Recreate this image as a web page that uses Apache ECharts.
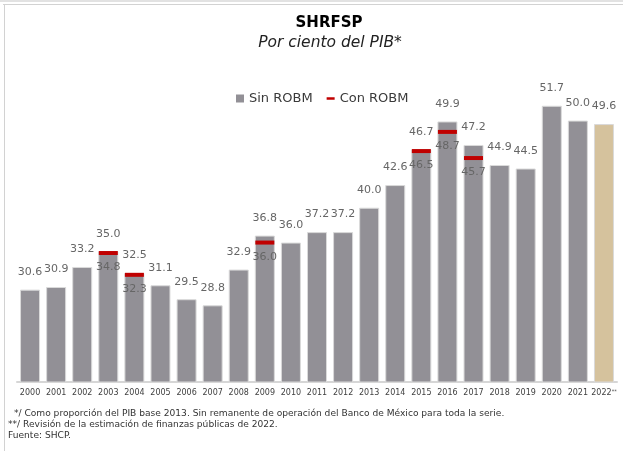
<!DOCTYPE html>
<html>
<head>
<meta charset="utf-8">
<script src="https://cdn.jsdelivr.net/npm/echarts@6/dist/echarts.min.js"></script>
<style>
html,body{margin:0;padding:0;background:#fff;}
#chart{width:623px;height:451px;}
</style>
</head>
<body>
<div id="chart"></div>
<script>
const years = ['2000','2001','2002','2003','2004','2005','2006','2007','2008','2009','2010','2011','2012','2013','2014','2015','2016','2017','2018','2019','2020','2021','2022**'];
const sinRobm = [30.6,30.9,33.2,35.0,32.5,31.1,29.5,28.8,32.9,36.8,36.0,37.2,37.2,40.0,42.6,46.7,49.9,47.2,44.9,44.5,51.7,50.0,49.6];
const conRobm = [null,null,null,34.8,32.3,null,null,null,null,36.0,null,null,null,null,null,46.5,48.7,45.7,null,null,null,null,null];
const footnotes = [
  ' */ Como proporción del PIB base 2013. Sin remanente de operación del Banco de México para toda la serie.',
  '**/ Revisión de la estimación de finanzas públicas de 2022.',
  'Fuente: SHCP.'
];

const FONT = 'DejaVu Sans';
const GRAY = '#929096';
const TAN = '#d5c29d';
const RED = '#c00000';
const LABEL = '#666666';

const chart = echarts.init(document.getElementById('chart'), null, {renderer:'canvas'});
const lastIdx = sinRobm.length - 1;

chart.setOption({
  animation: false,
  textStyle: {fontFamily: FONT},
  title: [
    {text: 'SHRFSP', left: 324, top: 11, textAlign: 'center',
     textStyle: {fontFamily: FONT, fontSize: 15, fontWeight: 'bold', color: '#000'}},
    {text: 'Por ciento del PIB*', left: 325, top: 30, textAlign: 'center',
     textStyle: {fontFamily: FONT, fontSize: 15.5, fontStyle: 'italic', fontWeight: 'normal', color: '#222'}}
  ],
  legend: {
    left: 236, top: 92, itemWidth: 8, itemHeight: 8, itemGap: 14, padding: 0,
    textStyle: {fontFamily: FONT, fontSize: 13, color: '#3a3a3a'},
    data: [
      {name: 'Sin ROBM', icon: 'rect', itemStyle: {color: GRAY, borderWidth: 0}},
      {name: 'Con ROBM', icon: 'path://M0,0H8V2.5H0Z', itemStyle: {color: RED, borderWidth: 0}}
    ]
  },
  grid: {left: 17, right: 6, top: 77, bottom: 69},
  xAxis: {
    type: 'category', data: years,
    axisLine: {lineStyle: {color: '#d6d6d6', width: 2}},
    axisTick: {show: false},
    axisLabel: {fontFamily: FONT, fontSize: 8, color: '#404040', margin: 7, interval: 0,
      formatter: v => v.endsWith('**') ? v.slice(0, -2) + '{s|**}' : v,
      rich: {s: {fontSize: 5, verticalAlign: 'top', color: '#404040', fontFamily: FONT}}}
  },
  yAxis: {type: 'value', min: 20, max: 55, show: false, splitLine: {show: false}},
  series: [
    {
      name: 'Sin ROBM', type: 'bar', data: sinRobm, barWidth: 20,
      itemStyle: {color: p => p.dataIndex === lastIdx ? TAN : GRAY, borderColor: '#dadada', borderWidth: 1},
      label: {show: true, position: 'top', distance: 12, fontFamily: FONT, fontSize: 11, color: LABEL,
        formatter: p => p.value.toFixed(1)}
    },
    {
      name: 'Con ROBM', type: 'scatter', data: conRobm, symbol: 'rect', symbolSize: [19, 4],
      itemStyle: {color: RED, opacity: 1}, z: 5,
      label: {show: true, position: 'bottom', distance: 7, fontFamily: FONT, fontSize: 11, color: LABEL,
        formatter: p => p.value.toFixed(1)}
    }
  ],
  graphic: [
    {type: 'rect', shape: {x: 0, y: 0, width: 623, height: 2}, style: {fill: '#e2e2e2'}, silent: true},
    {type: 'line', shape: {x1: 3, y1: 4.5, x2: 623, y2: 4.5}, style: {stroke: '#d2d2d2', lineWidth: 1}, silent: true},
    {type: 'line', shape: {x1: 4.5, y1: 4, x2: 4.5, y2: 451}, style: {stroke: '#d2d2d2', lineWidth: 1}, silent: true},
    ...footnotes.map((t, i) => ({
      type: 'text', left: i === 0 ? 11 : 8, top: 409 + i * 11.3,
      style: {text: t, fontFamily: FONT, fontSize: 9.1, fill: '#333'}, silent: true
    }))
  ]
});
</script>
</body>
</html>
